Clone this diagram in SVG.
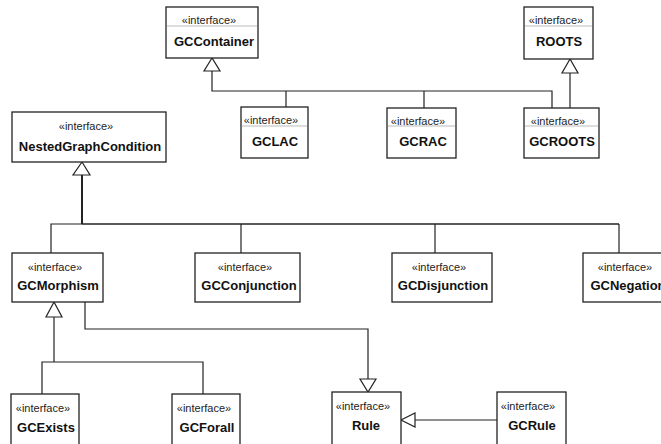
<svg xmlns="http://www.w3.org/2000/svg" width="661" height="444" viewBox="0 0 661 444">
<style>
.box{fill:#fff;stroke:#222;stroke-width:1.3}
.sep{stroke:#bbb;stroke-width:1}
.st{font-family:"Liberation Sans",Arial,sans-serif;font-size:11px;fill:#222;text-anchor:middle}
.nm{font-family:"Liberation Sans",Arial,sans-serif;font-size:13px;font-weight:bold;fill:#111;text-anchor:middle}
.ln{fill:none;stroke:#222;stroke-width:1.2}
.tri{fill:#fff;stroke:#222;stroke-width:1.2}
</style>
<rect width="661" height="444" fill="#fff"/>
<g id="connectors">
<polyline class="ln" points="212,71 212,91 552,91 552,108"/>
<line class="ln" x1="286" y1="91" x2="286" y2="107"/>
<line class="ln" x1="424" y1="91" x2="424" y2="108"/>
<polygon class="tri" points="212,58 204,71 220,71"/>
<line class="ln" x1="570" y1="73" x2="570" y2="108"/>
<polygon class="tri" points="570,59 562,73 578,73"/>
<line class="ln" x1="82" y1="175" x2="82" y2="224" style="stroke-width:2"/>
<line class="ln" x1="82" y1="224" x2="619" y2="224" style="stroke-width:1.5"/>
<polyline class="ln" points="82,224 51,224 51,253"/>
<line class="ln" x1="241" y1="224" x2="241" y2="253"/>
<line class="ln" x1="435" y1="224" x2="435" y2="253"/>
<line class="ln" x1="619" y1="224" x2="619" y2="253"/>
<polygon class="tri" points="82,162 73,175 90,175"/>
<line class="ln" x1="54" y1="317" x2="54" y2="362"/>
<polyline class="ln" points="42,394 42,362 203,362 203,394"/>
<polygon class="tri" points="54,302 46,317 62,317"/>
<polyline class="ln" points="85,302 85,329 368,329 368,379"/>
<polygon class="tri" points="360,379 376,379 368,392"/>
<line class="ln" x1="497" y1="420" x2="415" y2="420"/>
<polygon class="tri" points="401,420 415,413 415,427"/>
</g>
<g id="GCContainer">
<rect class="box" x="166" y="7" width="92" height="51"/>
<line class="sep" x1="167" y1="26" x2="257" y2="26"/>
<text class="st" x="209" y="24">«interface»</text>
<text class="nm" x="214" y="46">GCContainer</text>
</g>
<g id="ROOTS">
<rect class="box" x="524" y="7" width="69" height="52"/>
<line class="sep" x1="525" y1="26" x2="592" y2="26"/>
<text class="st" x="556" y="24">«interface»</text>
<text class="nm" x="559" y="46">ROOTS</text>
</g>
<g id="GCLAC">
<rect class="box" x="241" y="107" width="67" height="51"/>
<line class="sep" x1="242" y1="126" x2="307" y2="126"/>
<text class="st" x="271" y="124">«interface»</text>
<text class="nm" x="275" y="146">GCLAC</text>
</g>
<g id="GCRAC">
<rect class="box" x="387" y="108" width="69" height="50"/>
<line class="sep" x1="388" y1="126" x2="455" y2="126"/>
<text class="st" x="418" y="125">«interface»</text>
<text class="nm" x="423" y="146">GCRAC</text>
</g>
<g id="GCROOTS">
<rect class="box" x="524" y="108" width="75" height="50"/>
<line class="sep" x1="525" y1="126" x2="598" y2="126"/>
<text class="st" x="558" y="125">«interface»</text>
<text class="nm" x="562" y="146">GCROOTS</text>
</g>
<g id="NestedGraphCondition">
<rect class="box" x="12" y="112" width="154" height="50"/>
<text class="st" x="86" y="130">«interface»</text>
<text class="nm" x="90" y="151">NestedGraphCondition</text>
</g>
<g id="GCMorphism">
<rect class="box" x="12" y="253" width="91" height="49"/>
<text class="st" x="55" y="271">«interface»</text>
<text class="nm" x="58" y="290">GCMorphism</text>
</g>
<g id="GCConjunction">
<rect class="box" x="195" y="253" width="105" height="49"/>
<text class="st" x="245" y="271">«interface»</text>
<text class="nm" x="249" y="290">GCConjunction</text>
</g>
<g id="GCDisjunction">
<rect class="box" x="392" y="253" width="100" height="49"/>
<text class="st" x="439" y="271">«interface»</text>
<text class="nm" x="443" y="290">GCDisjunction</text>
</g>
<g id="GCNegation">
<rect class="box" x="583" y="253" width="100" height="49"/>
<text class="st" x="625" y="271">«interface»</text>
<text class="nm" x="628" y="290">GCNegation</text>
</g>
<g id="GCExists">
<rect class="box" x="11" y="394" width="68" height="60"/>
<text class="st" x="43" y="412">«interface»</text>
<text class="nm" x="46" y="432">GCExists</text>
</g>
<g id="GCForall">
<rect class="box" x="172" y="394" width="68" height="60"/>
<text class="st" x="204" y="412">«interface»</text>
<text class="nm" x="207" y="432">GCForall</text>
</g>
<g id="Rule">
<rect class="box" x="332" y="392" width="69" height="60"/>
<text class="st" x="363" y="410">«interface»</text>
<text class="nm" x="366" y="430">Rule</text>
</g>
<g id="GCRule">
<rect class="box" x="497" y="392" width="69" height="60"/>
<text class="st" x="528" y="410">«interface»</text>
<text class="nm" x="532" y="430">GCRule</text>
</g>
</svg>
